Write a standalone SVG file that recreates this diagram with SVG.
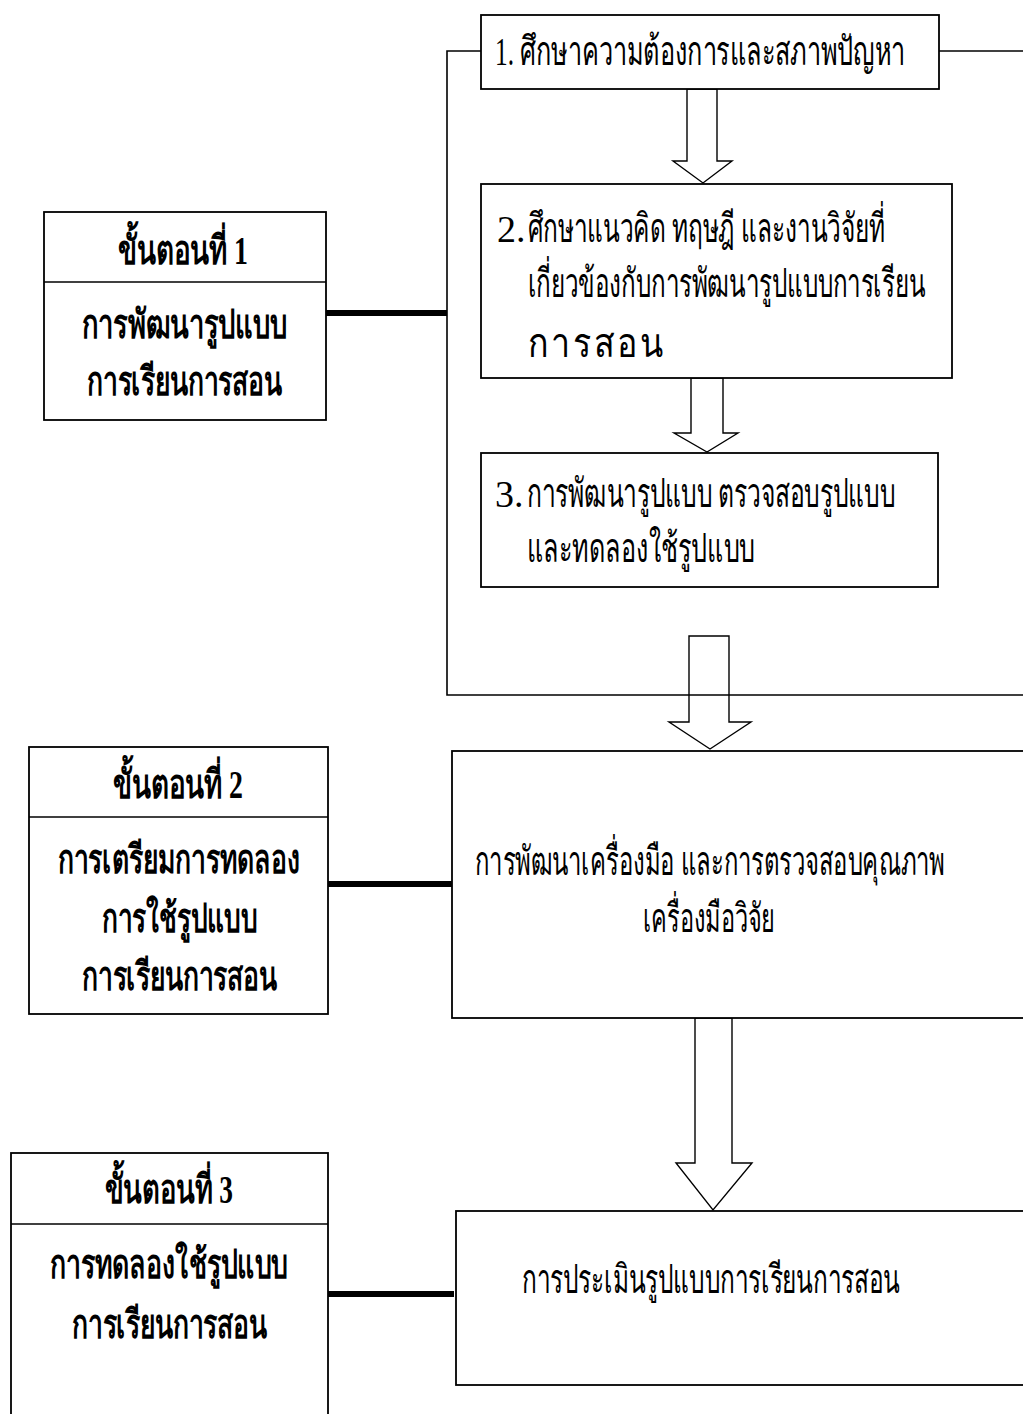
<svg xmlns="http://www.w3.org/2000/svg" width="1023" height="1414" viewBox="0 0 1023 1414">
<style>
  .box { fill: #fff; stroke: #000; stroke-width: 1.8; }
  .div { stroke: #000; stroke-width: 1.5; }
  .arrow { fill: #fff; stroke: #000; stroke-width: 1.4; stroke-linejoin: miter; }
  .bracket { fill: none; stroke: #000; stroke-width: 1.6; }
  .thick { stroke: #000; stroke-width: 6; }
  .t { font-family: "Liberation Serif", serif; font-size: 40px; fill: #000; }
  .n { font-family: "Liberation Serif", serif; font-size: 38px; fill: #000; }
  .b { font-family: "Liberation Serif", serif; font-size: 40px; font-weight: bold; fill: #000; text-anchor: middle; }
  .c { text-anchor: middle; }
</style>
<rect width="1023" height="1414" fill="#fff"/>

<g id="connectors">
  <polygon class="arrow" points="687,89 717,89 717,161 732,161 703,183 673,161 687,161"/>
  <polygon class="arrow" points="691,378 723,378 723,433 738,433 707,452 674,433 691,433"/>
  <polygon class="arrow" points="689,636 729,636 729,722 751,722 710,749 669,722 689,722"/>
  <polygon class="arrow" points="695,1018 732,1018 732,1163 752,1163 713,1210 676,1163 695,1163"/>
  <polyline class="bracket" points="481,51 447,51 447,695 1030,695"/>
  <line class="bracket" x1="939" y1="51" x2="1030" y2="51"/>
  <line class="thick" x1="326" y1="313" x2="447" y2="313"/>
  <line class="thick" x1="328" y1="884" x2="453" y2="884"/>
  <line class="thick" x1="328" y1="1294" x2="454" y2="1294"/>
</g>

<g id="step1">
  <rect class="box" x="44" y="212" width="282" height="208"/>
  <line class="div" x1="44" y1="282" x2="326" y2="282"/>
  <text class="b" x="183" y="264" textLength="130" lengthAdjust="spacingAndGlyphs">ขั้นตอนที่ 1</text>
  <text class="b" x="184.5" y="338" textLength="205" lengthAdjust="spacingAndGlyphs">การพัฒนารูปแบบ</text>
  <text class="b" x="184.5" y="395" textLength="195" lengthAdjust="spacingAndGlyphs">การเรียนการสอน</text>
</g>

<g id="step2">
  <rect class="box" x="29" y="747" width="299" height="267"/>
  <line class="div" x1="29" y1="817" x2="328" y2="817"/>
  <text class="b" x="178" y="798" textLength="130" lengthAdjust="spacingAndGlyphs">ขั้นตอนที่ 2</text>
  <text class="b" x="179" y="873" textLength="242" lengthAdjust="spacingAndGlyphs">การเตรียมการทดลอง</text>
  <text class="b" x="179.5" y="932" textLength="155" lengthAdjust="spacingAndGlyphs">การใช้รูปแบบ</text>
  <text class="b" x="179.5" y="990" textLength="195" lengthAdjust="spacingAndGlyphs">การเรียนการสอน</text>
</g>

<g id="step3">
  <rect class="box" x="11" y="1153" width="317" height="280"/>
  <line class="div" x1="11" y1="1224" x2="328" y2="1224"/>
  <text class="b" x="169" y="1203" textLength="128" lengthAdjust="spacingAndGlyphs">ขั้นตอนที่ 3</text>
  <text class="b" x="169" y="1278" textLength="238" lengthAdjust="spacingAndGlyphs">การทดลองใช้รูปแบบ</text>
  <text class="b" x="169.5" y="1338" textLength="195" lengthAdjust="spacingAndGlyphs">การเรียนการสอน</text>
</g>

<g id="box1">
  <rect class="box" x="481" y="15" width="458" height="74"/>
  <text class="t" x="495" y="65" textLength="410" lengthAdjust="spacingAndGlyphs">1. ศึกษาความต้องการและสภาพปัญหา</text>
</g>

<g id="box2">
  <rect class="box" x="481" y="184" width="471" height="194"/>
  <text class="n" x="497" y="242">2.</text>
  <text class="t" x="528" y="242" textLength="357" lengthAdjust="spacingAndGlyphs">ศึกษาแนวคิด ทฤษฎี และงานวิจัยที่</text>
  <text class="t" x="528" y="297" textLength="397" lengthAdjust="spacingAndGlyphs">เกี่ยวข้องกับการพัฒนารูปแบบการเรียน</text>
  <text class="t" transform="translate(528,357) scale(0.85,1)" x="0" y="0" textLength="159" lengthAdjust="spacing">การสอน</text>
</g>

<g id="box3">
  <rect class="box" x="481" y="453" width="457" height="134"/>
  <text class="n" x="495" y="507">3.</text>
  <text class="t" x="527" y="507" textLength="368" lengthAdjust="spacingAndGlyphs">การพัฒนารูปแบบ ตรวจสอบรูปแบบ</text>
  <text class="t" x="527" y="562" textLength="228" lengthAdjust="spacingAndGlyphs">และทดลองใช้รูปแบบ</text>
</g>

<g id="box4">
  <rect class="box" x="452" y="751" width="600" height="267"/>
  <text class="t c" x="710" y="875" textLength="470" lengthAdjust="spacingAndGlyphs">การพัฒนาเครื่องมือ และการตรวจสอบคุณภาพ</text>
  <text class="t c" x="709" y="932" textLength="132" lengthAdjust="spacingAndGlyphs">เครื่องมือวิจัย</text>
</g>

<g id="box5">
  <rect class="box" x="456" y="1211" width="600" height="174"/>
  <text class="t c" x="711" y="1293" textLength="378" lengthAdjust="spacingAndGlyphs">การประเมินรูปแบบการเรียนการสอน</text>
</g>
</svg>
